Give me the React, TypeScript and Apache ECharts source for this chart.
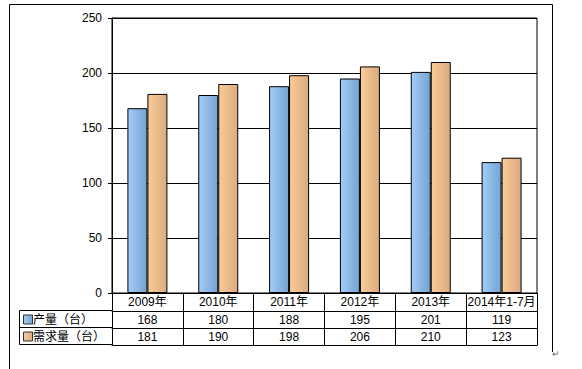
import { useEffect, useRef } from 'react';
import * as echarts from 'echarts';

const categories = ['2009年', '2010年', '2011年', '2012年', '2013年', '2014年1-7月'];
const seriesNames = ['产量（台）', '需求量（台）'];
const production = [168, 180, 188, 195, 201, 119];
const demand = [181, 190, 198, 206, 210, 123];
const yMin = 0;
const yMax = 250;
const yInterval = 50;

const FONT = "'Liberation Sans', Arial, 'Noto Sans CJK SC', sans-serif";

const blueGrad = () =>
  new echarts.graphic.LinearGradient(0, 0, 1, 0, [
    { offset: 0, color: '#a2cdf9' },
    { offset: 1, color: '#76a2d1' },
  ]);
const orangeGrad = () =>
  new echarts.graphic.LinearGradient(0, 0, 1, 0, [
    { offset: 0, color: '#fbcb97' },
    { offset: 1, color: '#d9ab80' },
  ]);

export default function App() {
  const ref = useRef<HTMLDivElement>(null);
  useEffect(() => {
    const chart = echarts.init(ref.current!, null, { renderer: 'svg' });
    const G = { left: 112, top: 18, width: 425, height: 275 };
    const bottom = G.top + G.height;
    const rowH = 17;
    const tableLeft = 19;
    const grads = [blueGrad, orangeGrad];
    const rows = [production, demand];

    const baseAxis = {
      type: 'category' as const,
      gridIndex: 0,
      position: 'bottom' as const,
      boundaryGap: true,
      axisLine: { show: true, lineStyle: { color: '#000', width: 1 } },
      axisTick: { show: true, interval: 0, inside: false, length: rowH, lineStyle: { color: '#000' } },
      axisLabel: { interval: 0, color: '#000', fontSize: 12, fontFamily: FONT, margin: 3 },
      splitLine: { show: false },
    };

    const graphic: any[] = [];
    // outer frame (left, top, right)
    graphic.push({ type: 'line', shape: { x1: 9.5, y1: 4.5, x2: 9.5, y2: 369 }, style: { stroke: '#000', lineWidth: 1 } });
    graphic.push({ type: 'line', shape: { x1: 9.5, y1: 4.5, x2: 552.5, y2: 4.5 }, style: { stroke: '#000', lineWidth: 1 } });
    graphic.push({ type: 'line', shape: { x1: 552.5, y1: 4.5, x2: 552.5, y2: 352 }, style: { stroke: '#000', lineWidth: 1 } });
    graphic.push({ type: 'text', left: 552, top: 349, style: { text: '↵', fontSize: 9, fill: '#666', fontFamily: FONT } });
    // left column of table
    for (let i = 1; i <= 3; i++) {
      const y = bottom + rowH * i + 0.5;
      graphic.push({ type: 'line', shape: { x1: tableLeft + 0.5, y1: y, x2: G.left, y2: y }, style: { stroke: '#000', lineWidth: 1 } });
    }
    graphic.push({
      type: 'line',
      shape: { x1: tableLeft + 0.5, y1: bottom + rowH + 0.5, x2: tableLeft + 0.5, y2: bottom + rowH * 3 + 0.5 },
      style: { stroke: '#000', lineWidth: 1 },
    });
    seriesNames.forEach((name, i) => {
      const cy = bottom + rowH * (i + 1) + rowH / 2 + 1;
      graphic.push({
        type: 'rect',
        shape: { x: 23.5, y: cy - 4.5, width: 9, height: 9 },
        style: { fill: grads[i](), stroke: '#333', lineWidth: 1 },
      });
      graphic.push({
        type: 'text',
        x: 33,
        y: cy,
        style: { text: name, fontSize: 12, fontFamily: FONT, fill: '#000', verticalAlign: 'middle' },
      });
    });

    chart.setOption({
      animation: false,
      grid: { ...G, show: true, borderColor: '#000', borderWidth: 1, backgroundColor: 'transparent', containLabel: false },
      xAxis: [
        { ...baseAxis, data: categories, axisTick: { ...baseAxis.axisTick, length: rowH + 1 } },
        { ...baseAxis, data: rows[0].map(String), offset: rowH + 1 },
        { ...baseAxis, data: rows[1].map(String), offset: rowH * 2 + 1 },
        { ...baseAxis, data: categories.map(() => ''), offset: rowH * 3 + 1, axisTick: { show: false }, axisLabel: { show: false } },
      ],
      yAxis: {
        type: 'value',
        min: yMin,
        max: yMax,
        interval: yInterval,
        axisLine: { show: true, lineStyle: { color: '#000' } },
        axisTick: { show: true, length: 4, lineStyle: { color: '#000' } },
        axisLabel: { color: '#000', fontSize: 12, fontFamily: FONT, margin: 10 },
        splitLine: { show: true, lineStyle: { color: '#000', width: 1, type: 'solid' } },
      },
      series: rows.map((d, i) => ({
        name: seriesNames[i],
        type: 'bar',
        xAxisIndex: 0,
        data: d,
        barWidth: 20,
        barGap: '0%',
        itemStyle: { color: grads[i](), borderColor: '#000', borderWidth: 1 },
      })),
      graphic,
    });
    return () => chart.dispose();
  }, []);
  return <div ref={ref} style={{ position: 'fixed', left: 0, top: 0, width: 582, height: 369, background: '#fff' }} />;
}
